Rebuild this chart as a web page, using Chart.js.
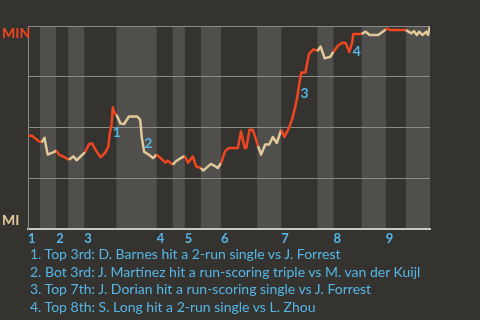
<!DOCTYPE html>
<html>
<head>
<meta charset="utf-8">
<script src="https://cdn.jsdelivr.net/npm/chart.js@4/dist/chart.umd.min.js"></script>
<style>
  body { margin: 0; background: #353330; width: 480px; height: 320px; overflow: hidden; position: relative; }
  #chart { display: block; }
  #notes { position: absolute; left: 30px; top: 245px; font: 14px Lato, sans-serif; line-height: 17.7px; color: #55b6e6; white-space: nowrap; }
</style>
</head>
<body>
<canvas id="chart" width="480" height="250"></canvas>
<div id="notes"></div>
<script>
// half innings start at these event numbers (top 1, bot 1, top 2, ...)
const halfInningStarts = [0, 3, 7, 10, 14, 22, 32, 36, 39, 43, 48, 57, 63, 72, 76, 83, 89, 94];
const lastEvent = 100;
const inningLabels = ['1', '2', '3', '4', '5', '6', '7', '8', '9'];

// MIN win probability after each event
const eventX = [0, 1, 2, 2.7, 3.4, 4.1, 4.9, 5.6, 6.4, 7.1, 7.7, 9.1, 10.2, 11.3, 12.1, 13.1, 14.2,
  15.2, 16, 17, 18.1, 19.2, 20, 20.3, 20.8, 21.1, 21.5, 22, 23, 23.9, 25.1, 26.2, 27.2, 27.9, 28.3,
  28.9, 30, 31.1, 32, 32.7, 34.2, 34.8, 36, 36.8, 38.3, 39, 39.8, 41, 41.8, 43, 43.6, 45.5, 46.3,
  47.2, 48, 49.1, 50, 51, 52.2, 53, 53.9, 54.3, 55.1, 55.9, 56.6, 57.2, 58, 59, 60, 60.9, 61.9, 63,
  63.8, 64.9, 65.7, 66.4, 67, 67.5, 68, 69, 69.9, 71, 72, 72.8, 73.8, 75.2, 76, 77.2, 78.2, 79,
  79.9, 80.7, 80.9, 83, 84, 85, 87.1, 89, 89.4, 90, 94, 95.4, 96, 96.7, 97.3, 98.1, 99.1, 99.5, 100];
const minWinProb = [.46, .46, .445, .433, .428, .45, .368, .374, .38, .387, .368, .355, .342, .359, .34, .359, .38,
  .42, .422, .384, .355, .376, .408, .466, .515, .6, .572, .564, .52, .518, .555, .555, .555, .539, .452,
  .381, .368, .351, .368, .355, .328, .338, .318, .335, .354, .36, .328, .359, .31, .302, .289, .322, .314,
  .302, .326, .387, .4, .4, .4, .482, .4, .4, .49, .49, .449, .41, .368, .417, .417, .454, .425, .49,
  .454, .498, .542, .596, .653, .719, .771, .771, .863, .885, .877, .899, .841, .849, .874, .905, .918, .917,
  .873, .923, .961, .961, .972, .956, .956, .983, .988, .98, .98, .964, .975, .956, .972, .956, .972, .956, .997];

const keyPlays = [
  '1. Top 3rd: D. Barnes hit a 2-run single vs J. Forrest',
  '2. Bot 3rd: J. Martínez hit a run-scoring triple vs M. van der Kuijl',
  '3. Top 7th: J. Dorian hit a run-scoring single vs J. Forrest',
  '4. Top 8th: S. Long hit a 2-run single vs L. Zhou'
];
const keyPlayMarks = ['1', '2', '3', '4'];

const RED = '#ef4621';
const BEIGE = '#e2c99a';
const BLUE = '#55b6e6';
const BAND = '#504f4c';

document.getElementById('notes').innerHTML = keyPlays.map(t => '<div>' + t + '</div>').join('');

const halfIndex = x => {
  let k = 0;
  while (k + 1 < halfInningStarts.length && x >= halfInningStarts[k + 1]) k++;
  return k;
};
const inningTops = halfInningStarts.filter((s, i) => i % 2 === 0);

const bands = {
  id: 'bands',
  beforeDraw(chart) {
    const { ctx, chartArea: { top, bottom }, scales: { x } } = chart;
    ctx.save();
    ctx.fillStyle = BAND;
    for (let k = 1; k < halfInningStarts.length; k += 2) {
      const x0 = x.getPixelForValue(halfInningStarts[k]);
      const x1 = x.getPixelForValue(k + 1 < halfInningStarts.length ? halfInningStarts[k + 1] : lastEvent);
      ctx.fillRect(x0, top, x1 - x0, bottom - top);
    }
    ctx.restore();
  }
};

const labels = {
  id: 'labels',
  afterDatasetsDraw(chart, args, opts) {
    const { ctx, chartArea: { top, bottom }, scales: { x, y } } = chart;
    ctx.save();
    ctx.textBaseline = 'middle';
    ctx.font = 'bold 14px Lato';
    ctx.fillStyle = RED;
    ctx.fillText('MIN', 2, top + 7);
    ctx.fillStyle = BEIGE;
    ctx.fillText('MI', 2, bottom - 9);
    ctx.fillStyle = BLUE;
    ctx.textAlign = 'center';
    opts.marks.forEach((m, i) => {
      ctx.fillText(keyPlayMarks[i], x.getPixelForValue(m.x), y.getPixelForValue(m.y));
    });
    ctx.restore();
  }
};

new Chart(document.getElementById('chart'), {
  type: 'line',
  data: {
    datasets: [{
      data: eventX.map((v, i) => ({ x: v, y: minWinProb[i] })),
      borderColor: RED,
      borderWidth: 2.5,
      borderJoinStyle: 'round',
      pointRadius: 0,
      tension: 0,
      segment: {
        borderColor: ctx => halfIndex(ctx.p0.parsed.x) % 2 === 0 ? RED : BEIGE
      }
    }]
  },
  options: {
    responsive: false,
    animation: false,
    layout: { padding: { left: 28, top: 26, right: 50, bottom: 1 } },
    plugins: {
      legend: { display: false },
      tooltip: { enabled: false },
      labels: {
        marks: [
          { x: 22.1, y: 0.475 },
          { x: 29.9, y: 0.42 },
          { x: 68.8, y: 0.67 },
          { x: 81.8, y: 0.873 }
        ]
      }
    },
    scales: {
      x: {
        type: 'linear',
        min: 0,
        max: lastEvent,
        grid: { display: false, drawTicks: false },
        border: { display: true, color: '#c8c8c8', width: 2 },
        afterBuildTicks: axis => { axis.ticks = inningTops.map(v => ({ value: v })); },
        ticks: {
          autoSkip: false,
          maxRotation: 0,
          align: 'start',
          padding: 2,
          color: BLUE,
          font: { family: 'Lato', size: 13, weight: 'bold' },
          callback: (v, i) => inningLabels[i]
        }
      },
      y: {
        min: 0,
        max: 1,
        ticks: { display: false, stepSize: 0.25 },
        grid: { color: '#8a8a88', drawTicks: false },
        border: { color: '#8a8a88' }
      }
    }
  },
  plugins: [bands, labels]
});
</script>
</body>
</html>
